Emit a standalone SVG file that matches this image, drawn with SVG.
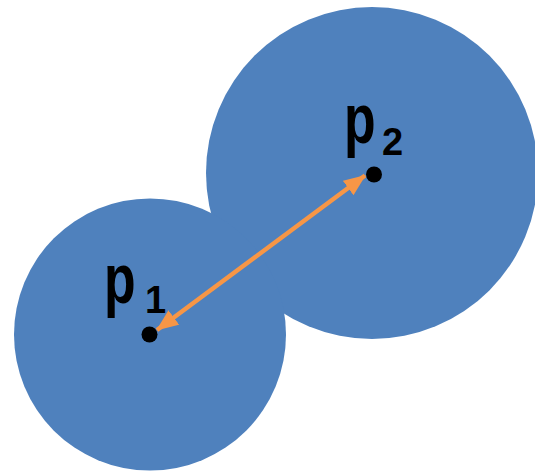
<svg xmlns="http://www.w3.org/2000/svg" width="535" height="472" viewBox="0 0 535 472">
  <style>
    .disk { fill: #4F81BD; }
    .pt { fill: #000000; }
    .lbl { font-family: "Liberation Sans", Arial, sans-serif; fill: #000000; font-weight: bold; }
    .main { font-size: 70px; }
    .sub { font-size: 38px; }
    .conn { stroke: #F79646; stroke-width: 4.5; fill: none; }
  </style>
  <defs>
    <marker id="head" viewBox="0 0 22 18" refX="21" refY="9" markerWidth="22" markerHeight="18" markerUnits="userSpaceOnUse" orient="auto-start-reverse">
      <path d="M0,0 L22,9 L0,18 Z" fill="#F79646"/>
    </marker>
  </defs>
  <g id="circle2">
    <circle class="disk" cx="372" cy="173" r="166"/>
  </g>
  <g id="circle1">
    <circle class="disk" cx="150" cy="334.5" r="136"/>
  </g>
  <g id="connectors">
    <line class="conn" x1="157" y1="330" x2="365" y2="175.5" marker-start="url(#head)" marker-end="url(#head)"/>
  </g>
  <g id="p1">
    <circle class="pt" cx="149.5" cy="334.5" r="8"/>
    <text class="lbl main" transform="translate(104,303) scale(0.74,1)">p</text>
    <text class="lbl sub" x="145" y="313">1</text>
  </g>
  <g id="p2">
    <circle class="pt" cx="374" cy="174.5" r="8"/>
    <text class="lbl main" transform="translate(344,143) scale(0.74,1)">p</text>
    <text class="lbl sub" x="382" y="155">2</text>
  </g>
</svg>
